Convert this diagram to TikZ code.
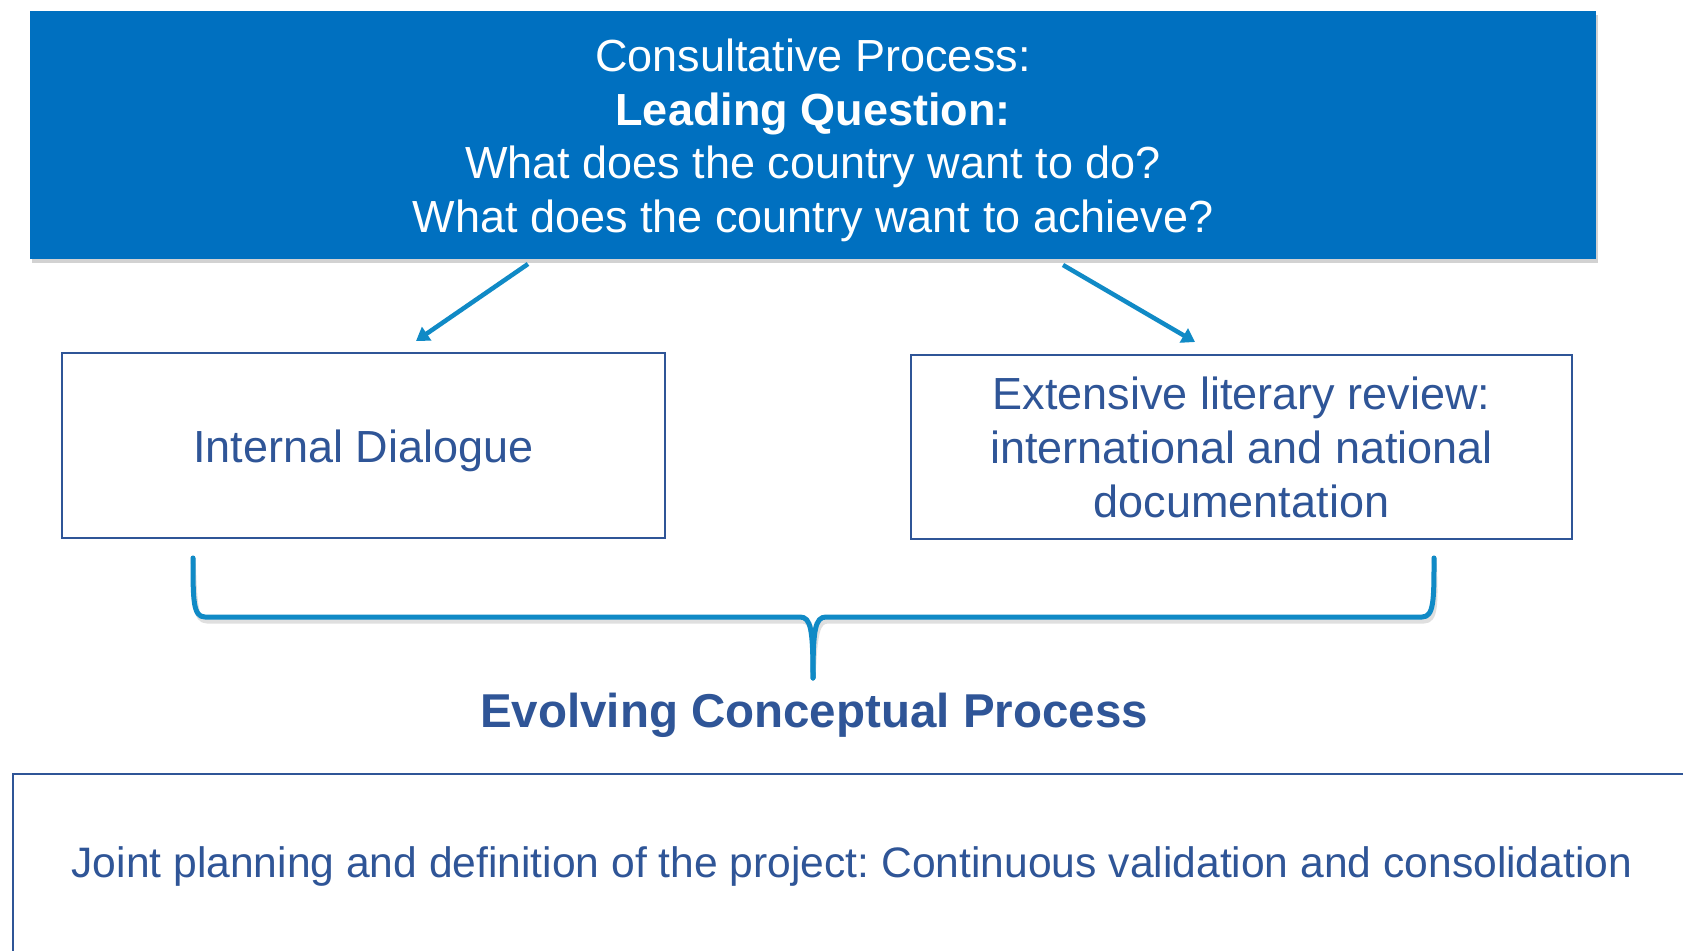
\documentclass[tikz,border=0pt]{standalone}
\usepackage{fontspec}
\setmainfont{Liberation Sans}
\frenchspacing
\usetikzlibrary{arrows.meta,shadows}
\definecolor{topblue}{HTML}{0070C0}
\definecolor{darkblue}{HTML}{2F5597}
\definecolor{arrowblue}{HTML}{108AC6}
\tikzset{
  topbox/.style={fill=topblue, draw=none, inner sep=0pt, minimum width=1566pt, minimum height=248pt,
    drop shadow={opacity=0.35, shadow xshift=2pt, shadow yshift=-4pt}},
  toptext/.style={text=white, align=center, inner sep=0pt, font=\fontsize{45}{53.7}\selectfont},
  sidebox/.style={draw=darkblue, line width=1.5pt, fill=white, inner sep=0pt, text=darkblue,
    align=center, font=\fontsize{45}{54}\selectfont},
  boxtext/.style={text=darkblue, inner sep=0pt, font=\fontsize{45}{54}\selectfont},
  conn/.style={draw=arrowblue, line width=4.5pt, -{Triangle[length=13pt,width=16pt]}},
  bracestyle/.style={draw=arrowblue, line width=5pt, line cap=round, line join=round},
  title/.style={text=darkblue, inner sep=0pt, font=\bfseries\fontsize{47.5}{57}\selectfont},
  bottomtext/.style={text=darkblue, inner sep=0pt, font=\fontsize{42.6}{52}\selectfont}
}
\begin{document}
\begin{tikzpicture}[x=1pt,y=-1pt]
\useasboundingbox (0,0) rectangle (1683,950);
\fill[white] (0,0) rectangle (1683,950);
% top box
\node[topbox] (top) at (813,135) {};
\node[toptext] (toptxt) at (813,140.5) {Consultative Process:\\ \textbf{Leading Question:}\\ What does the country want to do?\\ What does the country want to achieve?};
% side boxes
\node[sidebox, minimum width=603pt, minimum height=185pt] (left) at (363.5,445.5) {};
\node[boxtext, anchor=base] (lefttxt) at (363.5,462) {Internal Dialogue};
\node[sidebox, minimum width=661pt, minimum height=184pt] (right) at (1241.5,447) {Extensive literary review:\\ international and national\\ documentation};
% arrows
\coordinate (ls) at (528,264);
\coordinate (le) at (416,341);
\coordinate (rs) at (1063,265);
\coordinate (re) at (1195,342);
\draw[conn] (ls) -- (le);
\draw[conn] (rs) -- (re);
% brace
\coordinate (bl) at (193,558);
\coordinate (br) at (1434,558);
\coordinate (bm) at (813,678);
\begin{scope}[transparency group, opacity=0.25]
\draw[bracestyle, draw=gray, shift={(2pt,-4pt)}]
  (bl) .. controls (193,600) and (193,617) .. (205,617) -- (800,617)
  .. controls (811,617) and (813,630) .. (bm);
\draw[bracestyle, draw=gray, shift={(2pt,-4pt)}]
  (br) .. controls (1434,600) and (1434,617) .. (1422,617) -- (826,617)
  .. controls (815,617) and (813,630) .. (bm);
\end{scope}
\draw[bracestyle]
  (bl) .. controls (193,600) and (193,617) .. (205,617) -- (800,617)
  .. controls (811,617) and (813,630) .. (bm);
\draw[bracestyle]
  (br) .. controls (1434,600) and (1434,617) .. (1422,617) -- (826,617)
  .. controls (815,617) and (813,630) .. (bm);
% title
\node[title, anchor=base] (evolve) at (814,727) {Evolving Conceptual Process};
% bottom box
\coordinate (bbtl) at (13,774);
\coordinate (bbbr) at (1720,990);
\draw[draw=darkblue, line width=1.5pt] (bbtl) rectangle (bbbr);
\node[bottomtext, anchor=base] (joint) at (852,877) {Joint planning and definition of the project: Continuous validation and consolidation};
\end{tikzpicture}
\end{document}
